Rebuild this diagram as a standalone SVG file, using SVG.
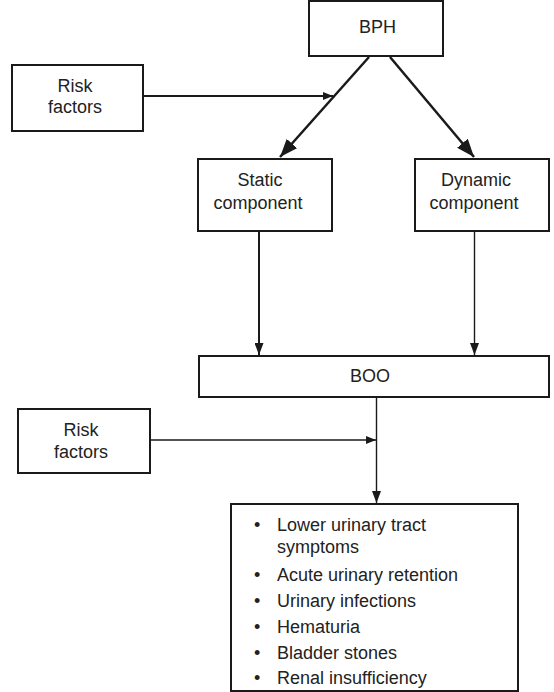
<svg xmlns="http://www.w3.org/2000/svg" width="554" height="692" viewBox="0 0 554 692">
<style>
.box{fill:#fff;stroke:#1a1a1a;stroke-width:2}
.t{font-family:"Liberation Sans",Arial,sans-serif;font-size:18px;fill:#222;text-anchor:middle}
.l{font-family:"Liberation Sans",Arial,sans-serif;font-size:18px;fill:#222}
.c{stroke:#1a1a1a;fill:none}
</style>
<defs>
<marker id="big" markerUnits="userSpaceOnUse" markerWidth="18" markerHeight="14" refX="18" refY="7" orient="auto"><path d="M0,0 L18,7 L0,14 z" fill="#1a1a1a"/></marker>
<marker id="med" markerUnits="userSpaceOnUse" markerWidth="12" markerHeight="9" refX="12" refY="4.5" orient="auto"><path d="M0,0 L12,4.5 L0,9 z" fill="#1a1a1a"/></marker>
<marker id="sm" markerUnits="userSpaceOnUse" markerWidth="10" markerHeight="8" refX="10" refY="4" orient="auto"><path d="M0,0 L10,4 L0,8 z" fill="#1a1a1a"/></marker>
</defs>
<g id="connectors">
<line class="c" x1="369" y1="57" x2="280" y2="157" stroke-width="2.5" marker-end="url(#big)"/>
<line class="c" x1="390" y1="57" x2="474" y2="157" stroke-width="2.5" marker-end="url(#big)"/>
<line class="c" x1="144" y1="96" x2="333" y2="96" stroke-width="1.8" marker-end="url(#sm)"/>
<line class="c" x1="259" y1="232" x2="259" y2="355" stroke-width="2" marker-end="url(#med)"/>
<line class="c" x1="474.5" y1="232" x2="474.5" y2="355" stroke-width="1.4" marker-end="url(#med)"/>
<line class="c" x1="376.5" y1="397" x2="376.5" y2="503" stroke-width="1.4" marker-end="url(#med)"/>
<line class="c" x1="150" y1="440" x2="376" y2="440" stroke-width="1.4" marker-end="url(#sm)"/>
</g>
<g id="bph"><rect class="box" x="309" y="1" width="134" height="55"/><text class="t" x="377.5" y="33">BPH</text></g>
<g id="risk1"><rect class="box" x="12" y="65" width="131" height="66"/><text class="t" x="75" y="92">Risk</text><text class="t" x="75" y="113">factors</text></g>
<g id="static"><rect class="box" x="198" y="159" width="134" height="72"/><text class="t" x="260" y="186">Static</text><text class="t" x="258" y="209">component</text></g>
<g id="dynamic"><rect class="box" x="415" y="159" width="134" height="72"/><text class="t" x="476" y="186">Dynamic</text><text class="t" x="474" y="209">component</text></g>
<g id="boo"><rect class="box" x="199" y="356" width="350" height="41"/><text class="t" x="370" y="382">BOO</text></g>
<g id="risk2"><rect class="box" x="18" y="409" width="132" height="64"/><text class="t" x="81" y="436">Risk</text><text class="t" x="81" y="458">factors</text></g>
<g id="outcomes"><rect class="box" x="231" y="504" width="287" height="187"/>
<text class="l" x="254" y="531">•</text><text class="l" x="277" y="531">Lower urinary tract</text>
<text class="l" x="277" y="553">symptoms</text>
<text class="l" x="254" y="581">•</text><text class="l" x="277" y="581">Acute urinary retention</text>
<text class="l" x="254" y="607">•</text><text class="l" x="277" y="607">Urinary infections</text>
<text class="l" x="254" y="633">•</text><text class="l" x="277" y="633">Hematuria</text>
<text class="l" x="254" y="659">•</text><text class="l" x="277" y="659">Bladder stones</text>
<text class="l" x="254" y="684">•</text><text class="l" x="277" y="684">Renal insufficiency</text>
</g>
</svg>
